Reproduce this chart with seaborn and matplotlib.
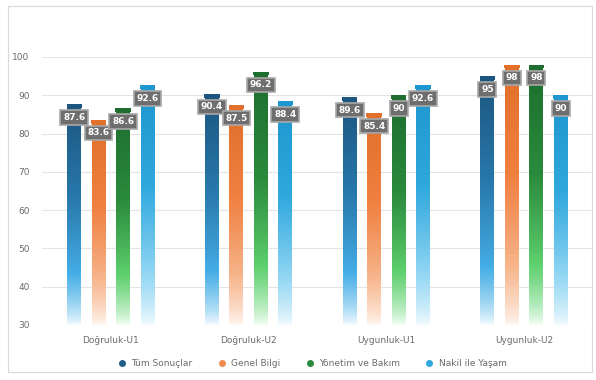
import numpy as np
import pandas as pd
import matplotlib
matplotlib.use("Agg")
import matplotlib.pyplot as plt
import seaborn as sns
from matplotlib.colors import LinearSegmentedColormap
from matplotlib.patches import Rectangle

# data
groups = ["Doğruluk-U1", "Doğruluk-U2", "Uygunluk-U1", "Uygunluk-U2"]
series = ["Tüm Sonuçlar", "Genel Bilgi", "Yönetim ve Bakım", "Nakil ile Yaşam"]
tum = [87.6, 90.4, 89.6, 95]
genel = [83.6, 87.5, 85.4, 98]
yonetim = [86.6, 96.2, 90, 98]
nakil = [92.6, 88.4, 92.6, 90]

# gradient stops per series: bottom -> top
grads = {
    "Tüm Sonuçlar": ["#f7fcff", "#45aee6", "#2878ab", "#1c5680"],
    "Genel Bilgi": ["#fff8f3", "#f7b48a", "#ef8040", "#e0702a"],
    "Yönetim ve Bakım": ["#f5fff6", "#5ed06e", "#2a8a3c", "#1d6e2f"],
    "Nakil ile Yaşam": ["#f5fcff", "#8dd4f2", "#2fa8de", "#1e96cf"],
}
legend_colors = ["#1f5e87", "#ef8a50", "#2a8a3c", "#2fa8de"]

df = pd.DataFrame({
    "grup": groups * 4,
    "seri": [s for s in series for _ in groups],
    "deger": tum + genel + yonetim + nakil,
})

sns.set_style("white")
fig = plt.figure(figsize=(5.96, 3.8), dpi=100)
ax = fig.add_axes([42 / 596, 1 - 325 / 380, 551 / 596, (325 - 57) / 380])

sns.barplot(data=df, x="grup", y="deger", hue="seri", hue_order=series,
            order=groups, width=0.71, gap=0.43, ax=ax, legend=False,
            palette=legend_colors)

ax.set_ylim(30, 100)
ax.set_xlim(-0.5, 3.5)

# gradient fill for every bar
for i, s in enumerate(series):
    cmap = LinearSegmentedColormap.from_list(s, grads[s])
    for patch in ax.containers[i].patches:
        x0 = patch.get_x()
        w = patch.get_width()
        top = patch.get_height()
        patch.set_facecolor("none")
        patch.set_edgecolor("none")
        g = np.linspace(0, 1, 256).reshape(-1, 1) ** 0.75
        im = ax.imshow(g, cmap=cmap, aspect="auto", origin="lower",
                       extent=[x0, x0 + w, 30, top], zorder=2)
        im.set_clip_path(patch)
        # darker cap on top
        cap = Rectangle((x0 - w * 0.05, top - 1.0), w * 1.1, 1.0,
                        fc=grads[s][-1], ec="none", zorder=3)
        ax.add_patch(cap)
        ax.annotate(f"{top:g}", (x0 + w / 2, top), xytext=(0, -9.5),
                    textcoords="offset points", ha="center", va="center",
                    fontsize=6.5, fontweight="bold", color="white", zorder=5,
                    bbox=dict(boxstyle="square,pad=0.3", fc="#6e6e6e",
                              ec="#a8a8a8", lw=1.2))

ax.set_yticks(range(30, 101, 10))
ax.yaxis.grid(True, color="#e4e4e4", lw=0.8)
ax.set_axisbelow(True)
for sp in ax.spines.values():
    sp.set_visible(False)
ax.tick_params(axis="both", length=0, labelsize=6.5, labelcolor="#6a6a6a")
ax.tick_params(axis="y", pad=9)
ax.tick_params(axis="x", pad=8)
ax.set_xlabel("")
ax.set_ylabel("")
ax.set_ylim(30, 100)
ax.set_xlim(-0.5, 3.5)

# legend
handles = [plt.Line2D([], [], marker="o", ls="", color=c, markersize=4)
           for c in legend_colors]
fig.legend(handles, series, loc="center", bbox_to_anchor=(0.52, 0.043),
           ncol=4, frameon=False, fontsize=6.5, labelcolor="#6a6a6a",
           handletextpad=0.1, columnspacing=2.2)

# chart frame
fig.patches.append(Rectangle((8 / 596, 8 / 380), 584 / 596, 366 / 380,
                             transform=fig.transFigure, fill=False,
                             ec="#d9d9d9", lw=0.8))

fig.savefig("out.png", dpi=100)
